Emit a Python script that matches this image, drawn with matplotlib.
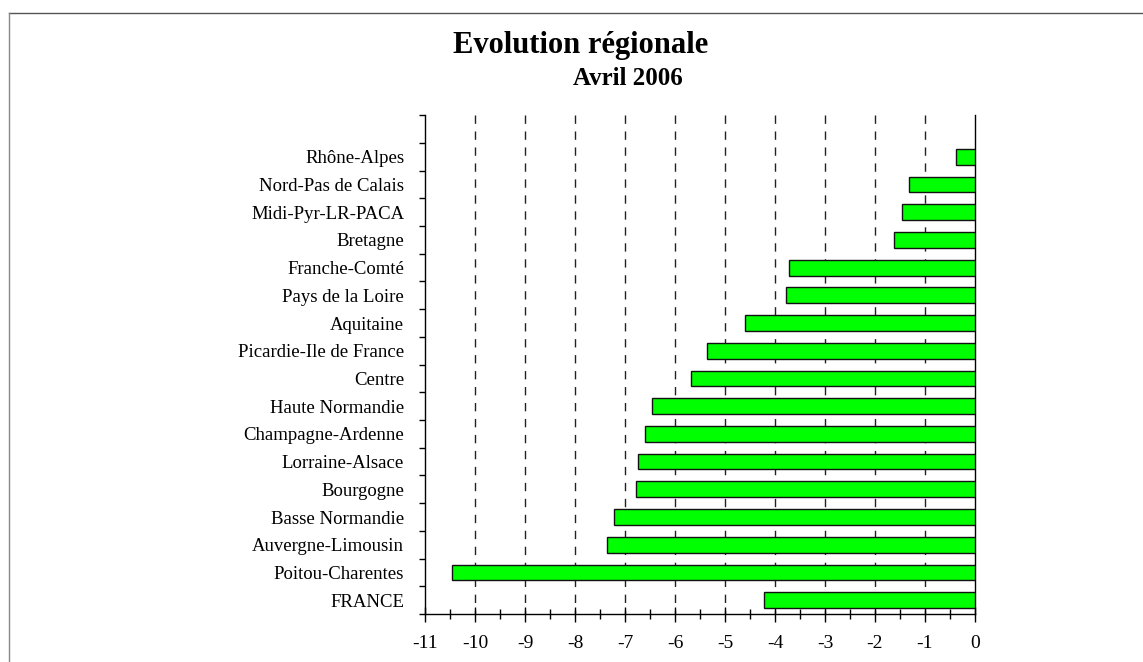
import numpy as np
import matplotlib.pyplot as plt
from matplotlib.lines import Line2D
from matplotlib.ticker import MultipleLocator, FixedLocator

# Données (de bas en haut)
regions = ['FRANCE', 'Poitou-Charentes', 'Auvergne-Limousin', 'Basse Normandie',
           'Bourgogne', 'Lorraine-Alsace', 'Champagne-Ardenne', 'Haute Normandie',
           'Centre', 'Picardie-Ile de France', 'Aquitaine', 'Pays de la Loire',
           'Franche-Comté', 'Bretagne', 'Midi-Pyr-LR-PACA', 'Nord-Pas de Calais',
           'Rhône-Alpes']
evolution = [-4.21, -10.45, -7.35, -7.21, -6.77, -6.73, -6.60, -6.45,
             -5.67, -5.35, -4.59, -3.77, -3.71, -1.62, -1.46, -1.31, -0.37]
xticks = list(range(-11, 1))

plt.rcParams['font.family'] = ['Liberation Serif', 'DejaVu Serif']

fig = plt.figure(figsize=(11.43, 6.62), dpi=100)
ax = fig.add_axes([0.3718, 0.0725, 0.4812, 0.7535])

y = np.arange(len(regions))
ax.barh(y, evolution, height=0.57, color='#00ff00', edgecolor='#111111',
        linewidth=1.0, zorder=3)

ax.set_xlim(-11, 0)
ax.set_ylim(-0.5, len(regions) + 0.5)

# grille verticale en tirets (du haut vers le bas)
for v in range(-10, 0):
    ax.plot([v, v], [len(regions) + 0.5, -0.5], color='#222222', linewidth=1.0,
            linestyle=(0, (6, 5.5)), zorder=1)

# axe x
ax.xaxis.set_major_locator(FixedLocator(xticks))
ax.xaxis.set_minor_locator(MultipleLocator(0.5))
ax.set_xticklabels([str(t) for t in xticks], fontsize=14)
ax.tick_params(axis='x', which='major', direction='inout', length=10.8, width=1, pad=9.5)
ax.tick_params(axis='x', which='minor', direction='inout', length=6.5, width=1)

# axe y : traits aux limites, étiquettes au centre
ax.yaxis.set_major_locator(FixedLocator(np.arange(-0.5, len(regions) + 1, 1)))
ax.yaxis.set_minor_locator(FixedLocator(y))
ax.set_yticklabels([], minor=False)
ax.set_yticklabels(regions, minor=True, fontsize=13.5)
ax.tick_params(axis='y', which='major', direction='out', length=4.5, width=1)
ax.tick_params(axis='y', which='minor', length=0, pad=15)

ax.spines['top'].set_visible(False)
for s in ['left', 'bottom', 'right']:
    ax.spines[s].set_color('black')
    ax.spines[s].set_linewidth(1)

fig.text(0.5083, 0.920, 'Evolution régionale', ha='center', va='baseline',
         fontsize=22, fontweight='bold')
fig.text(0.549, 0.8716, 'Avril 2006', ha='center', va='baseline',
         fontsize=18, fontweight='bold')

# cadre gris
fig.add_artist(Line2D([0.0082, 1.0], [0.980, 0.980], transform=fig.transFigure,
                      color='#555555', linewidth=1))
fig.add_artist(Line2D([0.0082, 0.0082], [0.0, 0.980], transform=fig.transFigure,
                      color='#888888', linewidth=1))

fig.savefig('out.png', dpi=100)
